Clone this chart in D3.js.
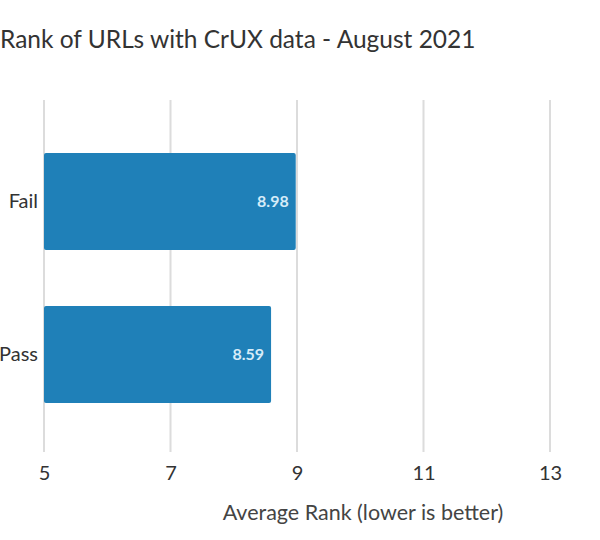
<!DOCTYPE html>
<html>
<head>
<meta charset="utf-8">
<script src="https://cdn.jsdelivr.net/npm/d3@7"></script>
<style>
  html, body { margin: 0; padding: 0; background: #fff; }
  svg { display: block; font-family: Lato, "Open Sans", sans-serif; }
</style>
</head>
<body>
<svg id="chart" width="600" height="540"></svg>
<script>
const categories = ["Fail", "Pass"];
const values = [8.98, 8.59];
const tickValues = [5, 7, 9, 11, 13];
const titleText = "Rank of URLs with CrUX data - August 2021";
const xAxisTitle = "Average Rank (lower is better)";

const svg = d3.select("#chart");
const x = d3.scaleLinear().domain([5, 13]).range([44, 550]);
const y = d3.scaleBand().domain(categories).range([100, 456]).paddingInner(0.366).paddingOuter(0.346);

// gridlines
svg.append("g").selectAll("line").data(tickValues).join("line")
  .attr("x1", d => x(d)).attr("x2", d => x(d))
  .attr("y1", 100).attr("y2", 452)
  .attr("stroke", "#dcdcdc").attr("stroke-width", 2);

// bars
svg.append("g").selectAll("rect").data(categories).join("rect")
  .attr("x", x(5))
  .attr("y", d => y(d))
  .attr("width", (d, i) => x(values[i]) - x(5))
  .attr("height", y.bandwidth())
  .attr("rx", 2)
  .attr("fill", "#1f80b8");

// value labels
svg.append("g").selectAll("text").data(categories).join("text")
  .attr("x", (d, i) => x(values[i]) - 7)
  .attr("y", d => y(d) + y.bandwidth() / 2)
  .attr("dy", "0.35em")
  .attr("text-anchor", "end")
  .attr("font-size", 16)
  .attr("font-weight", "bold")
  .attr("fill", "#d6ecf8")
  .text((d, i) => values[i].toFixed(2));

// y axis (category labels)
const yAxis = d3.axisLeft(y).tickSize(0).tickPadding(6);
const yg = svg.append("g").attr("transform", `translate(${x(5)},0)`).call(yAxis);
yg.select(".domain").remove();
yg.selectAll("text").attr("font-size", 20).attr("fill", "#333").attr("font-family", "Lato, sans-serif");

// x axis
const xAxis = d3.axisBottom(x).tickValues(tickValues).tickSize(0).tickPadding(14).tickFormat(d3.format("d"));
const xg = svg.append("g").attr("transform", "translate(0,452)").call(xAxis);
xg.select(".domain").remove();
xg.selectAll("text").attr("font-size", 20).attr("fill", "#333").attr("font-family", "Lato, sans-serif");

// axis title
svg.append("text")
  .attr("x", 363).attr("y", 520)
  .attr("text-anchor", "middle")
  .attr("font-size", 21.5)
  .attr("fill", "#444")
  .text(xAxisTitle);

// title
svg.append("text")
  .attr("x", 0).attr("y", 48)
  .attr("font-size", 24.5)
  .attr("fill", "#333")
  .text(titleText);
</script>
</body>
</html>
